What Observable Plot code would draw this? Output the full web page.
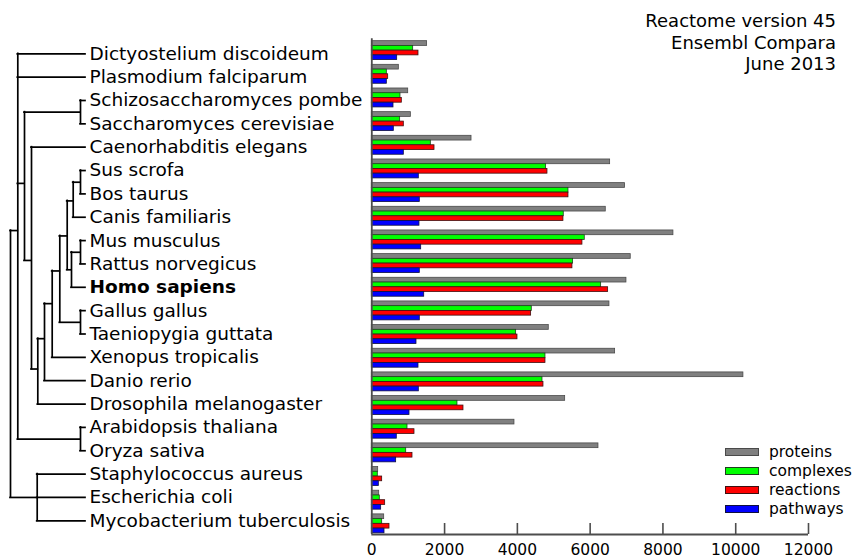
<!DOCTYPE html>
<html>
<head>
<meta charset="utf-8">
<script src="https://cdn.jsdelivr.net/npm/d3@7"></script>
<script src="https://cdn.jsdelivr.net/npm/@observablehq/plot@0.6"></script>
<style>
  body { margin: 0; background: #fff; }
  #wrap { position: relative; width: 853px; height: 560px; overflow: hidden; font-family: "DejaVu Sans", sans-serif; color: #000; }
  #tree { position: absolute; left: 0; top: 0; }
  #bars { position: absolute; left: 360px; top: 0; }
  #title { position: absolute; right: 17px; top: 10px; text-align: right; font-size: 18px; line-height: 21.5px; }
  #legend { position: absolute; left: 725px; top: 443px; font-size: 15.5px; }
  #legend .item { display: flex; align-items: center; height: 18.8px; }
  #legend .sw { width: 32px; height: 6px; margin-right: 10px; }
</style>
</head>
<body>
<div id="wrap">
  <div id="tree"></div>
  <div id="bars"></div>
  <div id="title"></div>
  <div id="legend"></div>
</div>
<script>
// ---------- data ----------
const species = [
  "Dictyostelium discoideum", "Plasmodium falciparum", "Schizosaccharomyces pombe",
  "Saccharomyces cerevisiae", "Caenorhabditis elegans", "Sus scrofa", "Bos taurus",
  "Canis familiaris", "Mus musculus", "Rattus norvegicus", "Homo sapiens",
  "Gallus gallus", "Taeniopygia guttata", "Xenopus tropicalis", "Danio rerio",
  "Drosophila melanogaster", "Arabidopsis thaliana", "Oryza sativa",
  "Staphylococcus aureus", "Escherichia coli", "Mycobacterium tuberculosis"
];
const highlighted = ["Homo sapiens"];

const proteins  = [1520, 743, 1000, 1073, 2740, 6549, 6960, 6429, 8288, 7115, 6997, 6530, 4863, 6686, 10211, 5313, 3920, 6228, 175, 203, 340];
const complexes = [1137, 413, 788, 779, 1622, 4790, 5404, 5275, 5852, 5532, 6302, 4396, 3966, 4772, 4690, 2354, 981, 945, 165, 220, 285];
const reactions = [1283, 450, 825, 880, 1723, 4827, 5404, 5266, 5788, 5513, 6494, 4378, 4003, 4772, 4717, 2519, 1173, 1118, 285, 367, 486];
const pathways  = [697, 413, 596, 605, 880, 1292, 1319, 1310, 1357, 1319, 1440, 1319, 1228, 1283, 1292, 1036, 687, 669, 193, 257, 349];

const metricNames = ["proteins", "complexes", "reactions", "pathways"];
const metricFill = ["#808080", "#00ff00", "#ff0000", "#0000ff"];
const metricStroke = ["#4a4a4a", "#1f3f1f", "#3f1010", "#10103f"];

const xTicks = [0, 2000, 4000, 6000, 8000, 10000, 12000];
const titleLines = ["Reactome version 45", "Ensembl Compara", "June 2013"];

// tree: internal nodes (depth = horizontal position, row = vertical position in leaf-row units)
const treeNodes = [
  {id: "root",             parent: null,               depth: 10,   row: null},
  {id: "eukaryota",        parent: "root",             depth: 17.3, row: 7.57},
  {id: "opisthokonta",     parent: "eukaryota",        depth: 24,   row: 5.55},
  {id: "fungi",            parent: "opisthokonta",     depth: 80,   row: 2.5},
  {id: "metazoa",          parent: "opisthokonta",     depth: 31,   row: 8.85},
  {id: "bilateria",        parent: "metazoa",          depth: 37.3, row: 13.5},
  {id: "vertebrata",       parent: "bilateria",        depth: 44,   row: 12.2},
  {id: "tetrapoda",        parent: "vertebrata",       depth: 51.7, row: 10.7},
  {id: "amniota",          parent: "tetrapoda",        depth: 59.3, row: 9.3},
  {id: "mammalia",         parent: "amniota",          depth: 66.7, row: 7.8},
  {id: "laurasiatheria",   parent: "mammalia",         depth: 72.7, row: 6.3},
  {id: "cetartiodactyla",  parent: "laurasiatheria",   depth: 80,   row: 5.5},
  {id: "euarchontoglires", parent: "mammalia",         depth: 71,   row: 9.25},
  {id: "murinae",          parent: "euarchontoglires", depth: 80,   row: 8.5},
  {id: "aves",             parent: "amniota",          depth: 80,   row: 11.5},
  {id: "viridiplantae",    parent: "eukaryota",        depth: 80,   row: 16.5},
  {id: "bacteria",         parent: "root",             depth: 36.7, row: 19}
];
const leafParents = [
  "eukaryota", "eukaryota", "fungi", "fungi", "metazoa", "cetartiodactyla", "cetartiodactyla",
  "laurasiatheria", "murinae", "murinae", "euarchontoglires", "aves", "aves", "tetrapoda",
  "vertebrata", "bilateria", "viridiplantae", "viridiplantae", "bacteria", "bacteria", "bacteria"
];
const leafDepth = 85;

// ---------- tree plot ----------
const byId = new Map(treeNodes.map(d => [d.id, d]));
const leaves = species.map((s, i) => ({id: s, parent: leafParents[i], depth: leafDepth, row: i}));
const allNodes = treeNodes.concat(leaves);
const hSegs = allNodes.filter(d => d.parent).map(d => ({x1: byId.get(d.parent).depth, x2: d.depth, y: d.row}));
const vSegs = treeNodes.map(n => {
  const kids = allNodes.filter(d => d.parent === n.id).map(d => d.row);
  return {x: n.depth, y1: d3.min(kids), y2: d3.max(kids)};
});

const fontFamily = '"DejaVu Sans", sans-serif';

const treePlot = Plot.plot({
  width: 371, height: 560,
  marginTop: 0, marginBottom: 0, marginLeft: 0, marginRight: 0,
  x: {domain: [0, 371], range: [0, 371], axis: null},
  y: {domain: [0, species.length - 1], range: [53.3, 520.3], axis: null},
  style: {fontFamily, background: "transparent", color: "#000"},
  marks: [
    Plot.ruleY(hSegs, {x1: "x1", x2: "x2", y: "y", stroke: "#000", strokeWidth: 1.7, strokeLinecap: "square"}),
    Plot.ruleX(vSegs, {x: "x", y1: "y1", y2: "y2", stroke: "#000", strokeWidth: 1.7, strokeLinecap: "square"}),
    Plot.text(leaves.filter(d => !highlighted.includes(d.id)), {
      x: "depth", y: "row", text: "id", dx: 4, textAnchor: "start", fontSize: 18.5, fill: "#000"
    }),
    Plot.text(leaves.filter(d => highlighted.includes(d.id)), {
      x: "depth", y: "row", text: "id", dx: 4, textAnchor: "start", fontSize: 18.5, fontWeight: "bold", fill: "#000"
    })
  ]
});
document.getElementById("tree").append(treePlot);

// ---------- bar plot ----------
const barData = [];
metricNames.forEach((m, j) => {
  const vals = [proteins, complexes, reactions, pathways][j];
  species.forEach((s, i) => barData.push({species: s, row: i, slot: j, metric: m, value: vals[i]}));
});
const slot = 0.2;
const yDomain = [-0.5, 20.45];
const H = 560, mTop = 38.3, mBottom = 26;
const innerH = H - mTop - mBottom;

const barMarks = metricNames.map((m, j) => Plot.rect(barData.filter(d => d.metric === m), {
  x1: 0, x2: "value",
  y1: d => d.row - 2 * slot + d.slot * slot,
  y2: d => d.row - 2 * slot + (d.slot + 1) * slot,
  fill: metricFill[j], stroke: metricStroke[j], strokeWidth: 0.8
}));

const barPlot = Plot.plot({
  width: 493, height: H,
  marginTop: mTop, marginBottom: mBottom, marginLeft: 11.3, marginRight: 45,
  x: {domain: [0, 12000]},
  y: {domain: yDomain, reverse: true, axis: null},
  style: {fontFamily, background: "transparent", color: "#000"},
  marks: [
    ...barMarks,
    Plot.ruleX([0], {stroke: "#4d4d4d", strokeWidth: 1.8}),
    Plot.ruleY([yDomain[1]], {x1: 0, x2: 12000, stroke: "#4d4d4d", strokeWidth: 1.8}),
    Plot.tickX(xTicks.filter(d => d > 0), {x: d => d, insetTop: innerH - 11, stroke: "#4d4d4d", strokeWidth: 1.6}),
    Plot.axisX(xTicks, {anchor: "bottom", tickSize: 0, tickPadding: 9, tickFormat: d => String(d), fontSize: 15.5, label: null, fill: "#000"})
  ]
});
document.getElementById("bars").append(barPlot);

// ---------- title & legend ----------
document.getElementById("title").innerHTML = titleLines.map(t => `<div>${t}</div>`).join("");
document.getElementById("legend").innerHTML = metricNames.map((m, j) =>
  `<div class="item"><span class="sw" style="background:${metricFill[j]};border:1px solid ${metricStroke[j]}"></span><span>${m}</span></div>`
).join("");
</script>
</body>
</html>
